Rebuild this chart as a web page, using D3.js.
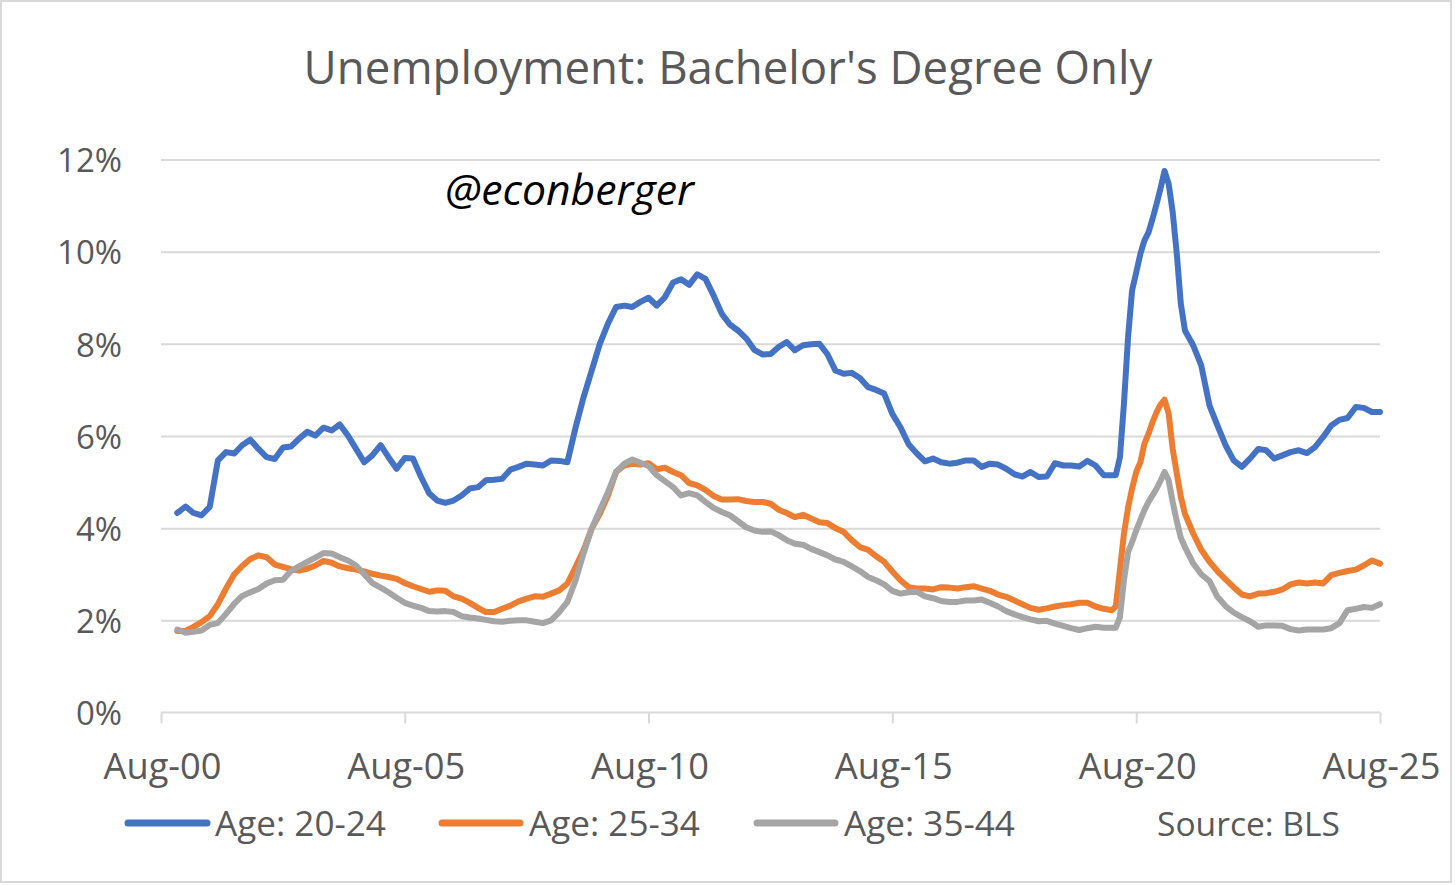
<!DOCTYPE html>
<html>
<head>
<meta charset="utf-8">
<script src="https://cdn.jsdelivr.net/npm/d3@7"></script>
<style>
  html, body { margin: 0; padding: 0; background: #fff; }
  svg { display: block; }
  text { font-family: "Open Sans", "Noto Sans", "DejaVu Sans", sans-serif; }
</style>
</head>
<body>
<svg id="chart" width="1456" height="885"></svg>
<script>
// ---------------- DATA ----------------
const title = "Unemployment: Bachelor's Degree Only";
const watermark = "@econberger";
const sourceNote = "Source: BLS";
const seriesNames = ["Age: 20-24", "Age: 25-34", "Age: 35-44"];
const seriesColors = ["#4472C4", "#ED7D31", "#A5A5A5"];

const dates = [
  "2000-12","2001-02","2001-04","2001-06","2001-08","2001-10","2001-12","2002-02","2002-04","2002-06","2002-08","2002-10",
  "2002-12","2003-02","2003-04","2003-06","2003-08","2003-10","2003-12","2004-02","2004-04","2004-06","2004-08","2004-10",
  "2004-12","2005-02","2005-04","2005-06","2005-08","2005-10","2005-12","2006-02","2006-04","2006-06","2006-08","2006-10",
  "2006-12","2007-02","2007-04","2007-06","2007-08","2007-10","2007-12","2008-02","2008-04","2008-06","2008-08","2008-10",
  "2008-12","2009-02","2009-04","2009-06","2009-08","2009-10","2009-12","2010-02","2010-04","2010-06","2010-08","2010-10",
  "2010-12","2011-02","2011-04","2011-06","2011-08","2011-10","2011-12","2012-02","2012-04","2012-06","2012-08","2012-10",
  "2012-12","2013-02","2013-04","2013-06","2013-08","2013-10","2013-12","2014-02","2014-04","2014-06","2014-08","2014-10",
  "2014-12","2015-02","2015-04","2015-06","2015-08","2015-10","2015-12","2016-02","2016-04","2016-06","2016-08","2016-10",
  "2016-12","2017-02","2017-04","2017-06","2017-08","2017-10","2017-12","2018-02","2018-04","2018-06","2018-08","2018-10",
  "2018-12","2019-02","2019-04","2019-06","2019-08","2019-10","2019-12","2020-02",
  "2020-03","2020-04","2020-05","2020-06","2020-07","2020-08","2020-09","2020-10","2020-11","2020-12","2021-01","2021-02",
  "2021-03","2021-04","2021-05","2021-06","2021-07","2021-08",
  "2021-10","2021-12","2022-02","2022-04","2022-06","2022-08","2022-10","2022-12","2023-02","2023-04","2023-06","2023-08",
  "2023-10","2023-12","2024-02","2024-04","2024-06","2024-08","2024-10","2024-12","2025-02","2025-04","2025-06","2025-08"
];

const age20to24 = [
  4.33,4.47,4.33,4.28,4.46,5.47,5.65,5.62,5.80,5.92,5.72,5.54,
  5.50,5.75,5.77,5.94,6.09,6.01,6.18,6.12,6.25,6.01,5.72,5.43,
  5.58,5.80,5.54,5.29,5.52,5.51,5.11,4.75,4.60,4.55,4.60,4.71,
  4.86,4.89,5.04,5.05,5.07,5.27,5.33,5.40,5.38,5.36,5.47,5.46,
  5.43,6.19,6.84,7.42,8.00,8.44,8.80,8.83,8.80,8.91,9.00,8.83,
  9.01,9.33,9.40,9.28,9.51,9.41,9.05,8.65,8.42,8.29,8.12,7.87,
  7.77,7.78,7.93,8.04,7.86,7.97,7.99,8.00,7.78,7.42,7.35,7.37,
  7.26,7.06,7.00,6.92,6.48,6.19,5.82,5.62,5.45,5.51,5.43,5.40,
  5.42,5.47,5.47,5.33,5.40,5.38,5.29,5.17,5.12,5.22,5.11,5.12,
  5.41,5.36,5.36,5.34,5.46,5.36,5.15,5.15,
  5.15,5.54,6.70,8.15,9.16,9.55,9.95,10.24,10.42,10.71,11.04,11.40,
  11.75,11.47,10.86,9.95,8.87,8.29,
  7.97,7.53,6.66,6.23,5.80,5.47,5.33,5.51,5.72,5.69,5.51,5.58,
  5.65,5.69,5.63,5.76,5.98,6.23,6.35,6.39,6.63,6.61,6.52,6.52
];

const age25to34 = [
  1.77,1.77,1.86,1.96,2.09,2.35,2.69,3.00,3.18,3.33,3.41,3.37,
  3.21,3.16,3.11,3.08,3.12,3.19,3.29,3.25,3.17,3.13,3.10,3.06,
  3.01,2.97,2.94,2.90,2.81,2.74,2.68,2.62,2.65,2.64,2.52,2.47,
  2.38,2.27,2.18,2.18,2.25,2.32,2.41,2.47,2.52,2.51,2.58,2.65,
  2.80,3.16,3.52,3.99,4.31,4.71,5.22,5.36,5.40,5.38,5.41,5.28,
  5.31,5.22,5.15,4.98,4.93,4.83,4.70,4.62,4.62,4.63,4.59,4.57,
  4.57,4.53,4.40,4.33,4.24,4.29,4.21,4.13,4.11,4.00,3.92,3.74,
  3.59,3.53,3.39,3.27,3.06,2.87,2.72,2.69,2.69,2.67,2.72,2.71,
  2.69,2.72,2.74,2.69,2.64,2.56,2.51,2.43,2.35,2.27,2.23,2.26,
  2.30,2.33,2.35,2.38,2.38,2.30,2.25,2.22,
  2.30,3.10,3.88,4.45,4.86,5.22,5.43,5.83,6.05,6.30,6.52,6.69,
  6.79,6.48,5.72,5.18,4.68,4.31,
  3.89,3.53,3.27,3.07,2.89,2.72,2.56,2.52,2.58,2.59,2.62,2.67,
  2.78,2.82,2.80,2.82,2.80,2.98,3.03,3.07,3.10,3.19,3.30,3.23
];

const age35to44 = [
  1.80,1.73,1.75,1.78,1.90,1.94,2.14,2.36,2.53,2.61,2.68,2.80,
  2.87,2.88,3.07,3.17,3.27,3.36,3.46,3.45,3.37,3.30,3.19,3.00,
  2.81,2.71,2.61,2.49,2.38,2.32,2.27,2.20,2.19,2.20,2.18,2.09,
  2.06,2.04,2.01,1.98,1.97,1.99,2.00,2.00,1.97,1.94,2.00,2.18,
  2.40,2.87,3.45,3.99,4.39,4.78,5.22,5.40,5.49,5.42,5.35,5.15,
  5.02,4.89,4.71,4.76,4.71,4.57,4.44,4.35,4.28,4.15,4.02,3.95,
  3.92,3.93,3.85,3.74,3.66,3.64,3.55,3.48,3.41,3.32,3.27,3.17,
  3.07,2.94,2.87,2.78,2.64,2.58,2.61,2.62,2.52,2.48,2.42,2.40,
  2.40,2.43,2.43,2.45,2.38,2.30,2.20,2.13,2.07,2.02,1.98,1.99,
  1.93,1.88,1.83,1.79,1.83,1.86,1.84,1.84,
  1.84,2.07,2.87,3.48,3.70,3.95,4.18,4.39,4.57,4.71,4.86,5.04,
  5.22,5.04,4.57,4.15,3.79,3.59,
  3.24,3.00,2.85,2.51,2.31,2.17,2.07,1.98,1.86,1.89,1.89,1.88,
  1.81,1.78,1.80,1.80,1.80,1.83,1.94,2.22,2.25,2.29,2.27,2.35
];

const xTickDates = ["2000-08","2005-08","2010-08","2015-08","2020-08","2025-08"];
const xTickLabels = ["Aug-00","Aug-05","Aug-10","Aug-15","Aug-20","Aug-25"];
const yTicks = [0, 2, 4, 6, 8, 10, 12];
const yTickLabels = ["0%","2%","4%","6%","8%","10%","12%"];

// ---------------- LAYOUT ----------------
const W = 1456, H = 885;
const plot = { left: 161, right: 1380, top: 159.5, bottom: 712.5 };
const textColor = "#595959";
const gridColor = "#D9D9D9";

const parse = d3.timeParse("%Y-%m");
const svg = d3.select("#chart");

svg.append("rect").attr("x", 0).attr("y", 0).attr("width", W).attr("height", H).attr("fill", "#fff");
svg.append("rect").attr("x", 1).attr("y", 1).attr("width", 1450).attr("height", 881)
  .attr("fill", "none").attr("stroke", gridColor).attr("stroke-width", 2);

const x = d3.scaleTime()
  .domain([parse(xTickDates[0]), parse(xTickDates[xTickDates.length - 1])])
  .range([plot.left, plot.right]);
const y = d3.scaleLinear().domain([0, 12]).range([plot.bottom, plot.top]);

// text fitting helper: returns font size so that `str` spans `target` px
const meas = svg.append("text").attr("font-size", 100).attr("x", -1000).attr("y", -1000);
function fitSize(str, target, style) {
  meas.attr("font-style", style || "normal").text(str);
  const w = meas.node().getComputedTextLength();
  return 100 * target / w;
}

const titleSize = fitSize(title, 849);
const yLabSize = fitSize("12%", 65);
const xLabSize = fitSize("Aug-00", 118);
const legSize = fitSize("Age: 20-24", 171);
const srcSize = fitSize(sourceNote, 183);
const wmSize = fitSize(watermark, 249, "italic");
meas.remove();

// gridlines
const yAxis = d3.axisLeft(y).tickValues(yTicks.filter(v => v > 0))
  .tickSize(-(plot.right - plot.left)).tickFormat("");
svg.append("g").attr("transform", `translate(${plot.left},0)`).call(yAxis)
  .call(g => g.select(".domain").remove())
  .call(g => g.selectAll("line").attr("stroke", gridColor).attr("stroke-width", 2));

// y labels
svg.append("g").selectAll("text").data(yTicks).join("text")
  .attr("x", 122).attr("y", d => y(d) + 12.8)
  .attr("text-anchor", "end").attr("fill", textColor)
  .attr("font-size", yLabSize)
  .text((d, i) => yTickLabels[i]);

// x axis
const xAxis = d3.axisBottom(x).tickValues(xTickDates.map(parse)).tickSize(11).tickFormat("");
svg.append("g").attr("transform", `translate(0,${plot.bottom})`).call(xAxis)
  .call(g => g.select(".domain").attr("stroke", gridColor).attr("stroke-width", 2)
    .attr("d", `M${plot.left},0H${plot.right}`))
  .call(g => g.selectAll(".tick line").attr("stroke", gridColor).attr("stroke-width", 2));

svg.append("g").selectAll("text").data(xTickDates).join("text")
  .attr("x", d => x(parse(d)) + 1.5).attr("y", 778.5)
  .attr("text-anchor", "middle").attr("fill", textColor)
  .attr("font-size", xLabSize)
  .text((d, i) => xTickLabels[i]);

// lines
const seriesData = [age20to24, age25to34, age35to44];
const line = d3.line().x(d => x(d.date)).y(d => y(d.value)).curve(d3.curveLinear);
seriesData.forEach((vals, s) => {
  const pts = dates.map((d, i) => ({ date: parse(d), value: vals[i] }));
  svg.append("path").datum(pts)
    .attr("d", line)
    .attr("fill", "none")
    .attr("stroke", seriesColors[s])
    .attr("stroke-width", 6)
    .attr("stroke-linejoin", "round")
    .attr("stroke-linecap", "round");
});

// title
svg.append("text").attr("x", 728).attr("y", 83.5).attr("text-anchor", "middle")
  .attr("fill", textColor).attr("font-size", titleSize).text(title);

// watermark
svg.append("text").attr("x", 445).attr("y", 205).attr("fill", "#000")
  .attr("font-style", "italic").attr("font-size", wmSize).text(watermark);

// legend
const legendItems = [
  { lx1: 128, lx2: 207, tx: 215 },
  { lx1: 442, lx2: 520, tx: 529 },
  { lx1: 757, lx2: 835, tx: 844 }
];
legendItems.forEach((li, i) => {
  svg.append("line").attr("x1", li.lx1).attr("x2", li.lx2).attr("y1", 823).attr("y2", 823)
    .attr("stroke", seriesColors[i]).attr("stroke-width", 7).attr("stroke-linecap", "round");
  svg.append("text").attr("x", li.tx).attr("y", 835.5).attr("fill", textColor)
    .attr("font-size", legSize).text(seriesNames[i]);
});
svg.append("text").attr("x", 1157).attr("y", 835.5).attr("fill", textColor)
  .attr("font-size", srcSize).text(sourceNote);
</script>
</body>
</html>
